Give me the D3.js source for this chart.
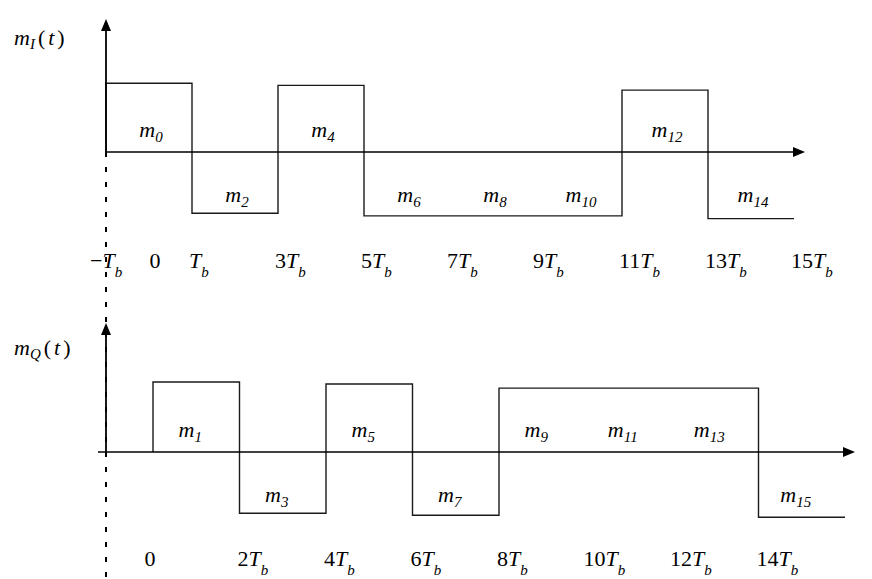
<!DOCTYPE html>
<html>
<head>
<meta charset="utf-8">
<script src="https://cdn.jsdelivr.net/npm/d3@7"></script>
<style>
html,body{margin:0;padding:0;background:#fff;}
svg{display:block;}
text{font-family:"Liberation Serif","Times New Roman",serif;fill:#000;}
</style>
</head>
<body>
<svg id="chart" width="872" height="579"></svg>
<script>
// ---- data ----
const iSubscripts = ["0","2","4","6","8","10","12","14"];
const iLevels     = [1.01, -0.90, 0.98, -0.94, -0.94, -0.94, 0.91, -0.98];
const qSubscripts = ["1","3","5","7","9","11","13","15"];
const qLevels     = [1.03, -0.90, 1.00, -0.93, 0.94, 0.94, 0.94, -0.96];
const iTicks      = [-1, 0, 1, 3, 5, 7, 9, 11, 13, 15];
const iTickLabels = ["−T_b","0","T_b","3T_b","5T_b","7T_b","9T_b","11T_b","13T_b","15T_b"];
const qTicks      = [0, 2, 4, 6, 8, 10, 12, 14];
const qTickLabels = ["0","2T_b","4T_b","6T_b","8T_b","10T_b","12T_b","14T_b"];
const seriesNames = [["m","I"],["m","Q"]];

const svg = d3.select("#chart");
const FS = 22, SFS = 15;

const panels = [
  {subs:iSubscripts, levels:iLevels, ticks:iTicks, tickLabels:iTickLabels, name:seriesNames[0],
   t0:-1, x:d3.scaleLinear().domain([-1,15]).range([106,794]),
   axisY:152, amp:68, yTop:19, xStart:106, xEnd:805, tickBase:268, nameBase:45,
   zeroDx:6, tickDx:-3, labelDx:2},
  {subs:qSubscripts, levels:qLevels, ticks:qTicks, tickLabels:qTickLabels, name:seriesNames[1],
   t0:0, x:d3.scaleLinear().domain([0,16]).range([153,845]),
   axisY:452, amp:68, yTop:323, xStart:98, xEnd:855, tickBase:566, nameBase:355,
   zeroDx:-3, tickDx:-2, labelDx:-6}
];

// dashed vertical reference line
svg.append("line")
  .attr("x1",106).attr("x2",106).attr("y1",152).attr("y2",579)
  .attr("stroke","#000").attr("stroke-width",2).attr("stroke-dasharray","5,10");

panels.forEach(p => {
  const y = d3.scaleLinear().domain([-1,1]).range([p.axisY + p.amp, p.axisY - p.amp]);
  const g = svg.append("g");

  // waveform
  const pts = [[p.t0, 0]];
  p.levels.forEach((v,k) => pts.push([p.t0 + 2*k, v]));
  pts.push([p.t0 + 2*p.levels.length, p.levels[p.levels.length-1]]);
  const line = d3.line().x(d => p.x(d[0])).y(d => y(d[1])).curve(d3.curveStepAfter);
  g.append("path").attr("d", line(pts))
    .attr("fill","none").attr("stroke","#1a1a1a").attr("stroke-width",1.4);

  // axes
  g.append("line").attr("x1",p.xStart).attr("x2",p.xEnd-10).attr("y1",p.axisY).attr("y2",p.axisY)
    .attr("stroke","#000").attr("stroke-width",1.6);
  g.append("path")
    .attr("d",`M${p.xEnd},${p.axisY} L${p.xEnd-12},${p.axisY-5} L${p.xEnd-12},${p.axisY+5} Z`)
    .attr("fill","#000");
  g.append("line").attr("x1",106).attr("x2",106).attr("y1",p.axisY).attr("y2",p.yTop+10)
    .attr("stroke","#000").attr("stroke-width",1.8);
  g.append("path")
    .attr("d",`M106,${p.yTop} L101,${p.yTop+12} L111,${p.yTop+12} Z`)
    .attr("fill","#000");

  // symbol labels
  p.levels.forEach((v,k) => {
    const xc = p.x(p.t0 + 2*k + 1) + p.labelDx;
    const yb = v > 0 ? p.axisY - 15 : p.axisY + 50;
    const t = g.append("text").attr("x", xc).attr("y", yb).attr("text-anchor","middle")
      .attr("font-style","italic").attr("font-size",FS);
    t.append("tspan").text("m");
    t.append("tspan").attr("font-size",SFS).attr("dy",5).text(p.subs[k]);
  });

  // tick labels
  p.ticks.forEach((tv,i) => {
    const lab = p.tickLabels[i];
    const xp = p.x(tv);
    if (lab.indexOf("T_b") < 0) {
      g.append("text").attr("x", xp + p.zeroDx).attr("y", p.tickBase)
        .attr("text-anchor","middle").attr("font-size",FS).text(lab);
      return;
    }
    const prefix = lab.replace("T_b","");
    const xs = xp + p.tickDx - (prefix === "−" ? 13 : 0);
    const t = g.append("text").attr("x", xs).attr("y", p.tickBase).attr("font-size",FS);
    if (prefix) t.append("tspan").text(prefix);
    t.append("tspan").attr("font-style","italic").text("T");
    t.append("tspan").attr("font-style","italic").attr("font-size",SFS).attr("dy",9).text("b");
  });

  // series name
  const n = g.append("text").attr("x",14).attr("y",p.nameBase).attr("font-size",FS);
  n.append("tspan").attr("font-style","italic").text(p.name[0]);
  n.append("tspan").attr("font-style","italic").attr("font-size",SFS).attr("dy",4).text(p.name[1]);
  n.append("tspan").attr("dy",-4).attr("dx",3).text("(");
  n.append("tspan").attr("font-style","italic").attr("dx",3).text("t");
  n.append("tspan").attr("dx",3).text(")");
});
</script>
</body>
</html>
